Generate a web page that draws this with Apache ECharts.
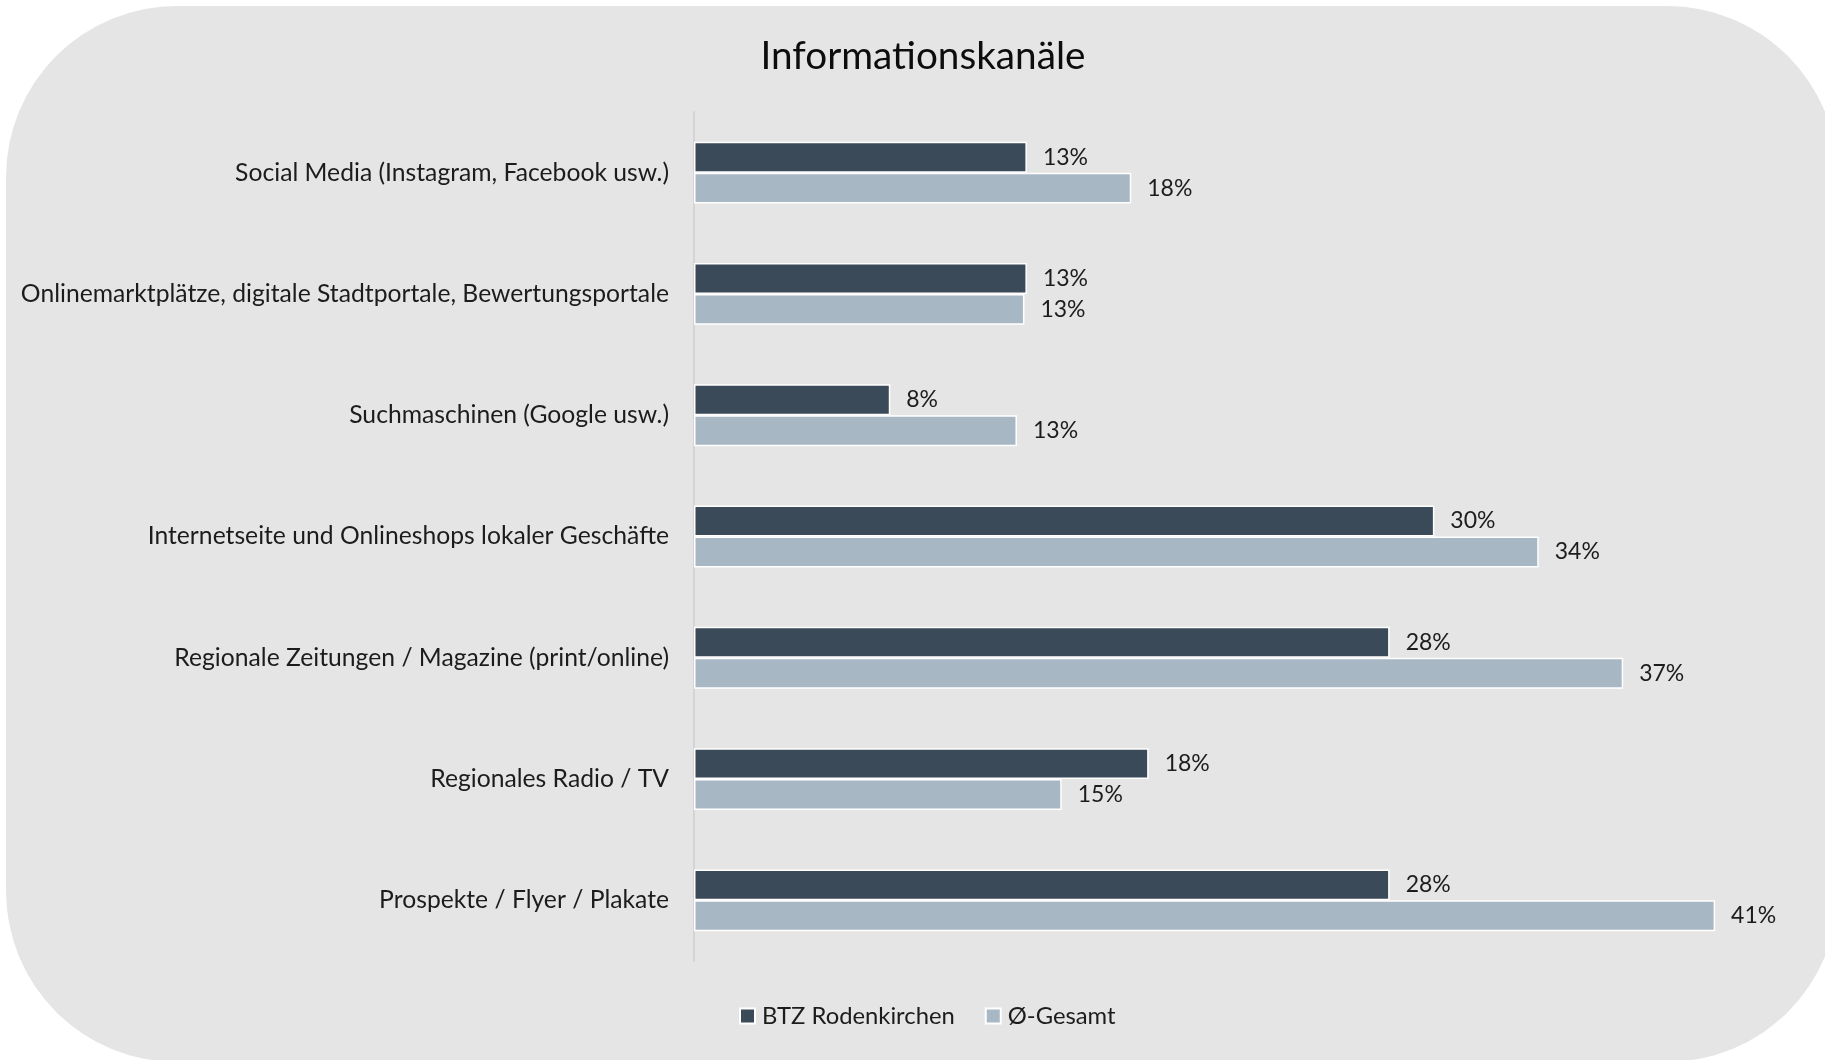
<!DOCTYPE html>
<html>
<head>
<meta charset="utf-8">
<script src="https://cdn.jsdelivr.net/npm/echarts@6/dist/echarts.min.js"></script>
<style>
  html, body { margin: 0; padding: 0; background: #ffffff; overflow: hidden; }
  .panel {
    position: absolute;
    left: 6px;
    top: 6px;
    width: 1832px;
    height: 1056px;
    background: #e5e5e5;
    border-radius: 171px;
  }
  #chart { position: absolute; left: 0; top: 0; width: 1825px; height: 1060px; }
</style>
</head>
<body>
<div class="panel"></div>
<div id="chart"></div>
<script>
const categories = [
  'Social Media (Instagram, Facebook usw.)',
  'Onlinemarktplätze, digitale Stadtportale, Bewertungsportale',
  'Suchmaschinen (Google usw.)',
  'Internetseite und Onlineshops lokaler Geschäfte',
  'Regionale Zeitungen / Magazine (print/online)',
  'Regionales Radio / TV',
  'Prospekte / Flyer / Plakate'
]
const seriesNames = ['BTZ Rodenkirchen', 'Ø-Gesamt']
// Anteile in %, Beschriftung gerundet
const btzValues = [13.4, 13.4, 7.9, 29.8, 28.0, 18.3, 28.0]
const gesamtValues = [17.6, 13.3, 13.0, 34.0, 37.4, 14.8, 41.1]

const textColor = '#1c1c1c'
const font = 'Lato'

const chart = echarts.init(document.getElementById('chart'))

const barLabel = {
  show: true,
  position: 'right',
  distance: 16,
  color: textColor,
  fontFamily: font,
  fontSize: 23,
  formatter: (p) => Math.round(p.value) + '%',
}

chart.setOption({
  backgroundColor: 'transparent',
  title: {
    text: 'Informationskanäle',
    left: 918,
    top: 32,
    textAlign: 'center',
    textStyle: {
      color: '#0d0d0d',
      fontFamily: font,
      fontSize: 38.7,
      fontWeight: 'normal',
    },
  },
  legend: {
    data: seriesNames,
    bottom: 27,
    left: 734,
    icon: 'rect',
    itemWidth: 15,
    itemHeight: 15,
    itemGap: 30,
    textStyle: { color: textColor, fontFamily: font, fontSize: 23.8, padding: [0, 0, 0, 2] },
  },
  grid: {
    left: 694,
    top: 112,
    width: 1118,
    bottom: 99,
  },
  xAxis: {
    type: 'value',
    min: 0,
    max: 45,
    show: false,
    splitLine: { show: false },
  },
  yAxis: {
    type: 'category',
    inverse: true,
    data: categories,
    axisLine: { show: true, lineStyle: { color: '#d4d4d4', width: 2 } },
    axisTick: { show: false },
    axisLabel: {
      color: textColor,
      fontFamily: font,
      fontSize: 24.7,
      margin: 25,
    },
  },
  series: [
    {
      name: seriesNames[0],
      type: 'bar',
      data: btzValues,
      barGap: '0%',
      barCategoryGap: '49%',
      itemStyle: { color: '#3b4a58', borderColor: '#ffffff', borderWidth: 1.5 },
      label: barLabel,
    },
    {
      name: seriesNames[1],
      type: 'bar',
      data: gesamtValues,
      itemStyle: { color: '#a8b7c4', borderColor: '#ffffff', borderWidth: 1.5 },
      label: barLabel,
    },
  ],
})
</script>
</body>
</html>
